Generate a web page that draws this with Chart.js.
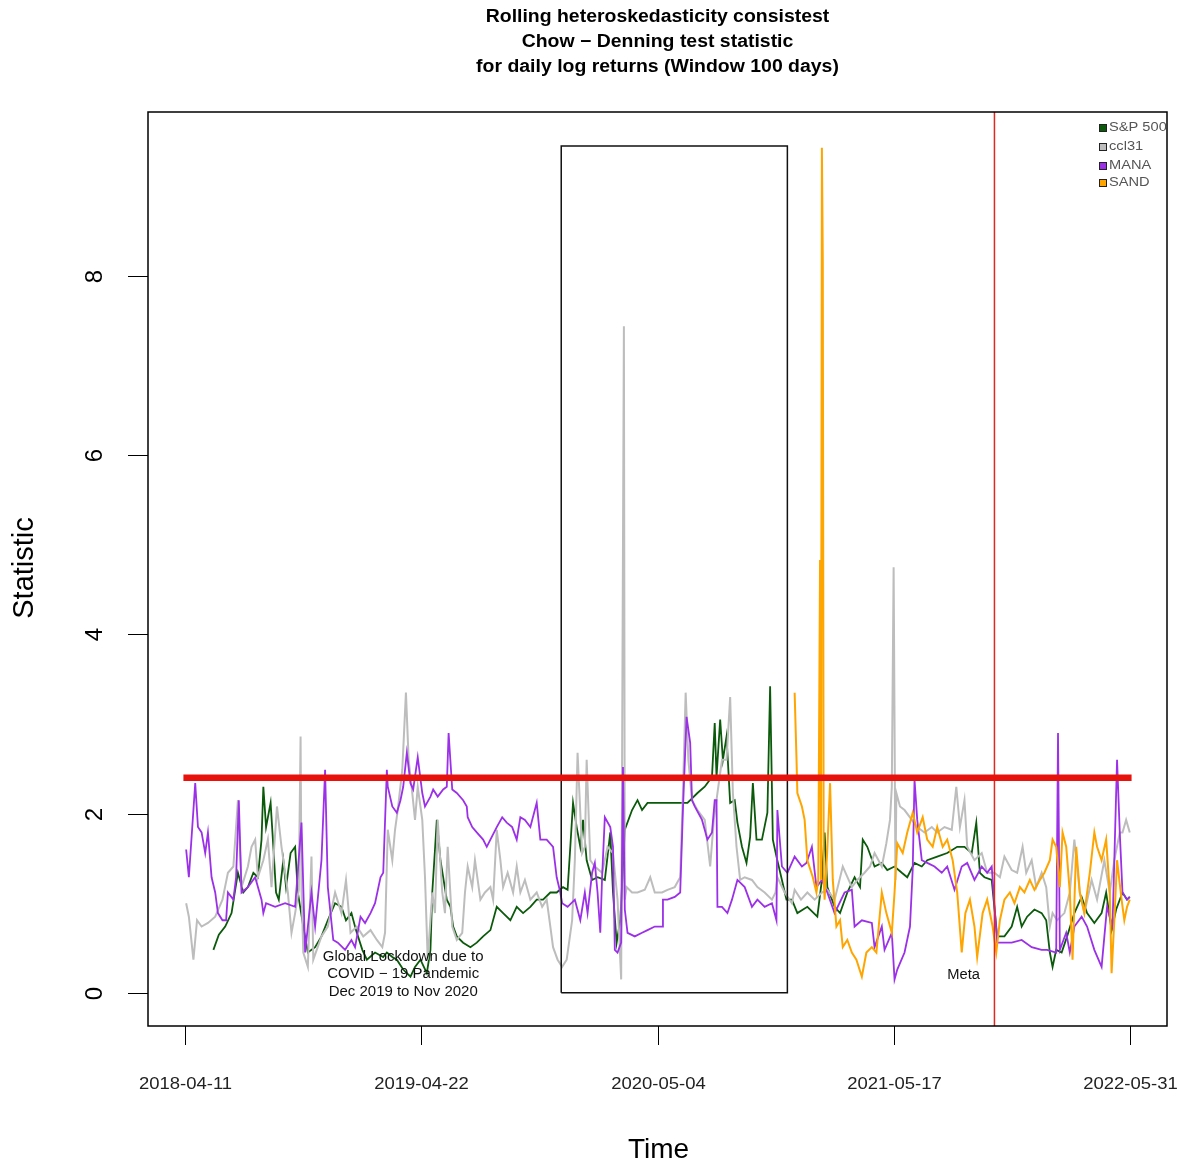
<!DOCTYPE html>
<html>
<head>
<meta charset="utf-8">
<script src="https://cdn.jsdelivr.net/npm/chart.js@4/dist/chart.umd.min.js"></script>
<style>
body { margin: 0; background: #fff; }
#wrap { width: 1181px; height: 1166px; }
</style>
</head>
<body>
<div id="wrap"><canvas id="lineChart"></canvas></div>
<script>
// x = observation index (trading days), y = rolling test statistic
var spxIdx = [31,37,44,51,55,58,64,69,75,80, 84,86,89,94,97,100,103,108,111,116, 121,124,130,135,143,150,157,165,172,177, 183,188,195,200,209,218,222,228,233,240, 248,253,259,266,270,272,275,277,281,284, 288,292,295,299,306,314,321,328,336,343, 350,358,365,372,380,387,394,402,409,416,
  421,424,427,431,435,438,442,448,454,462, 468,471,475,479,484,492,498,503,509,523, 539,553,564,572,580,583,585,589,592,596, 600,605,608,613,618,622,625,629,635,641, 644,647,651,657,662,668,
  674,685,696,701,704,707,715,721,729,737, 743,746,751,759,767,773,781,789,795,803, 811,817,828,839,850,858,866,871,875,880, 888,894,
  902,910,916,921,927,935,943,948,952,955, 959,965,971,979,987,993,1001,1009,1014,1020, 1025,1032,1037,1040];
var spxVal = [0.48,0.65,0.74,0.89,1.15,1.34,1.12,1.18,1.34,1.29, 1.71,2.30,1.85,2.12,1.63,1.12,1.04,1.48,1.18,1.56, 1.63,1.12,0.74,0.45,0.51,0.63,0.81,1.00,0.96,0.81, 0.89,0.70,0.48,0.37,0.45,0.40,0.45,0.40,0.37,0.26, 0.18,0.29,0.37,0.22,0.48,1.12,1.60,1.93,1.48,1.29, 1.04,0.96,0.74,0.63,0.56,0.51,0.56,0.63,0.70,0.96, 0.89,0.81,0.96,0.89,0.96,1.04,1.04,1.12,1.12,1.18,
  1.15,1.63,2.12,1.85,1.63,1.93,1.48,1.26,1.29,1.26, 1.79,1.12,0.56,0.81,1.82,2.04,2.15,2.04,2.12,2.12, 2.12,2.12,2.23,2.30,2.41,3.01,2.41,3.05,2.60,2.86, 2.12,2.15,1.90,1.63,1.45,1.74,2.34,1.71,1.71,2.01, 3.42,1.71,1.52,1.26,1.04,1.04,
  0.89,0.96,0.85,1.26,1.79,1.18,0.96,0.89,1.12,1.29, 1.18,1.71,1.63,1.41,1.45,1.37,1.41,1.34,1.29,1.45, 1.41,1.48,1.52,1.56,1.63,1.63,1.56,1.90,1.34,1.29, 1.26,0.63,
  0.63,0.74,0.96,0.74,0.85,0.93,0.89,0.81,0.45,0.29, 0.48,0.45,0.63,0.89,1.07,0.89,0.78,0.89,1.12,0.70, 0.93,1.12,1.04,1.07];

var cclIdx = [1,4,9,13,18,25,33,41,47,53, 58,62,69,73,77,80,86,91,95,101, 106,113,117,121,125,127,128,130,135,139, 141,150,157,165,172,177,182,189,196,204, 211,217,220,223,228,231,234,239,243,246, 250,253,256,261,264,267,272,275,278,283, 286,289,294,299,305,308,311,316,319,325, 330,336,339,343,347,350,355,361,365,369, 374,380,387,393,398,402,405,410,
  415,420,426,429,432,437,440,442,446,451, 459,465,471,476,480,483,484,486,492,498, 506,512,517,525,531,539,545,548,551,554, 558,564,572,578,582,586,591,596,600,603, 607,611,616,624,630,638,646,650,652,660, 668,
  671,678,685,693,701,707,715,724,734,740, 748,754,759,767,772,776,778,780,782,783, 787,792,800,806,814,822,828,836,844,849, 853,858,861,869,877,883,891,
  897,902,910,916,922,926,932,937,943,948, 952,955,960,968,974,979,985,990,998,1004, 1012,1018,1023,1029,1032,1036,1040];
var cclVal = [1.00,0.85,0.37,0.81,0.74,0.78,0.85,1.04,1.34,1.41, 2.15,1.18,1.41,1.63,1.71,1.29,1.48,1.71,1.18,2.08, 1.63,1.12,0.67,0.89,1.15,2.86,1.15,0.45,0.29,1.52, 0.37,0.63,0.74,1.12,0.89,1.26,0.67,0.74,0.63,0.70, 0.59,0.51,0.67,1.82,1.48,1.82,2.04,2.49,3.35,2.60, 2.23,1.93,2.30,1.93,1.29,0.37,1.12,0.89,1.93,1.12, 0.89,1.63,0.74,0.59,0.67,1.12,1.41,1.18,1.48,1.04, 1.12,1.18,1.04,1.82,1.48,1.18,1.34,1.12,1.41,1.12, 1.26,1.04,1.12,0.96,1.04,0.74,0.51,0.37,
  0.29,0.37,0.81,1.48,2.68,1.56,1.63,2.60,1.48,1.41, 1.34,1.63,1.56,1.04,0.15,7.44,1.04,1.18,1.12,1.12, 1.15,1.29,1.12,1.12,1.15,1.18,1.29,2.23,3.35,2.60, 2.15,2.04,1.93,1.41,1.93,2.23,2.60,2.60,3.30,2.23, 1.63,1.26,1.29,1.26,1.18,1.12,1.04,1.12,1.29,1.12, 1.00,
  1.15,1.04,1.12,1.04,1.12,1.15,1.04,1.41,1.18,1.26, 1.34,1.41,1.56,1.41,1.67,1.93,2.30,4.75,1.26,2.23, 2.08,2.04,1.93,1.85,1.79,1.85,1.79,1.85,1.82,2.30, 1.85,2.15,1.63,1.48,1.56,1.34,1.34,
  1.29,1.52,1.37,1.34,1.63,1.34,1.48,1.18,1.34,1.18, 0.74,0.89,0.81,0.89,1.12,1.71,1.12,0.89,1.26,1.04, 1.48,1.12,1.48,1.79,1.79,1.93,1.79];

var manaIdx = [1,4,11,14,18,22,25,29,33,36, 41,45,47,53,56,59,62,69,77,84, 86,89,99,110,121,128,132,139,143,150, 154,157,163,168,176,183,187,193,198,204, 209,215,218,222,223,228,233,237,240,244, 248,251,256,261,264,270,273,278,284,288, 290,294,299,306,310,311,316,321,328,332, 336,343,349,354,360,365,369,374,380,387, 391,398,405,409,413,
  415,421,429,435,440,443,448,451,454,457, 459,462,468,471,473,476,480,482,484,487, 495,503,509,517,525,526,531,539,545,548, 552,556,558,561,569,575,580,583,585,586, 591,597,602,608,616,624,630,638,646,651, 652,657,663,
  671,679,684,690,695,701,707,715,726,734, 737,745,756,759,767,770,778,781,784,792, 798,801,803,806,811,817,825,833,839,847, 855,861,869,877,883,888,894,
  899,910,921,932,943,949,959,961,963,970, 974,979,987,993,1001,1009,1015,1021,1026,1029, 1032,1037,1040];
var manaVal = [1.60,1.29,2.34,1.85,1.79,1.56,1.79,1.29,1.12,0.89, 0.81,0.81,1.12,1.04,1.29,2.15,1.12,1.18,1.29,1.04, 0.89,1.00,0.96,1.00,0.96,1.90,0.45,1.12,0.74,1.48, 2.49,1.18,0.59,0.56,0.48,0.59,0.51,0.85,0.78,0.89, 1.00,1.29,1.34,2.49,2.30,2.08,2.01,2.15,2.30,2.68, 2.34,2.27,2.63,2.23,2.08,2.19,2.27,2.19,2.27,2.30, 2.90,2.27,2.23,2.15,2.08,1.96,1.85,1.79,1.71,1.63, 1.71,1.85,1.96,1.90,1.85,1.71,1.96,1.93,1.85,2.12, 1.71,1.71,1.63,1.29,1.12,
  1.00,0.96,1.04,0.81,1.12,0.89,1.34,1.45,1.12,0.67, 1.29,1.96,1.85,1.63,0.48,0.45,0.56,2.52,0.93,0.67, 0.63,0.67,0.70,0.74,0.74,1.04,1.04,1.07,1.12,2.04, 3.08,2.79,2.15,2.08,1.93,1.71,1.79,2.15,2.15,0.96, 0.96,0.89,1.04,1.26,1.18,0.96,1.04,0.96,1.00,0.81, 2.04,1.41,1.34,
  1.52,1.41,1.45,1.63,1.18,1.26,1.12,0.89,1.12,1.15, 0.74,0.81,0.78,0.51,0.74,0.48,0.67,0.15,0.26,0.45, 0.74,1.37,2.38,1.93,1.48,1.45,1.41,1.34,1.41,1.15, 1.41,1.45,1.26,1.41,1.34,1.41,0.56,
  0.56,0.56,0.59,0.51,0.48,0.48,0.45,2.90,0.48,0.67, 0.45,0.74,0.85,0.74,0.48,0.29,0.96,0.74,2.60,1.79, 1.12,1.04,1.07];

var sandIdx = [671,673,674,679,682,685,691,695,697,699, 700,701,702,703,704,707,710,713,717,721, 724,729,734,739,745,750,756,761,767,772, 778,781,784,790,795,801,806,812,817,823, 828,834,839,845,850,855,859,864,869,872, 878,883,889,893,897,902,908,913,919,924, 930,935,941,946,952,955,959,963,966,970, 974,977,981,985,990,996,1001,1004,1009,1014, 1018,1020,1023,1026,1031,1034,1037,1040];
var sandVal = [3.35,2.63,2.23,2.08,1.93,1.48,1.29,1.12,1.26,4.83, 1.26,9.43,8.16,1.26,1.04,1.60,2.34,1.26,0.74,0.81, 0.51,0.59,0.45,0.37,0.18,0.45,0.51,0.45,1.12,0.89, 0.67,1.12,1.67,1.56,1.79,2.01,1.79,1.96,1.71,1.63, 1.85,1.63,1.71,1.48,1.12,0.45,0.89,1.04,0.74,0.40, 0.89,1.04,0.74,0.45,0.81,1.04,1.12,1.00,1.18,1.12, 1.26,1.15,1.26,1.34,1.48,1.71,1.63,1.18,1.79,1.63, 1.12,0.37,1.63,1.12,0.89,1.34,1.79,1.63,1.48,1.71, 1.12,0.22,0.81,1.48,1.04,0.81,0.96,1.04];

var xTickIdx = [0, 260, 520, 780, 1040];
var xTickLabels = ['2018-04-11', '2019-04-22', '2020-05-04', '2021-05-17', '2022-05-31'];
var yTicks = [0, 2, 4, 6, 8];

var criticalValue = 2.4;
var lockdownStart = 414, lockdownEnd = 663, lockdownTop = 9.45;
var metaIdx = 891;

var seriesNames = ['S&P 500', 'ccl31', 'MANA', 'SAND'];
var seriesColors = ['#0b5a0b', '#bdbdbd', '#9b30e8', '#ffa500'];

function pts(xs, ys) {
    return xs.map(function (x, i) { return { x: x, y: ys[i] }; });
}

function line(label, data, color, width, order) {
    return {
        label: label,
        data: data,
        borderColor: color,
        borderWidth: width,
        pointRadius: 0,
        tension: 0,
        fill: false,
        order: order,
    };
}

var data = {
    datasets: [
        line(seriesNames[0], pts(spxIdx, spxVal), seriesColors[0], 1.8, 6),
        line(seriesNames[1], pts(cclIdx, cclVal), seriesColors[1], 2, 5),
        line(seriesNames[2], pts(manaIdx, manaVal), seriesColors[2], 1.8, 4),
        line(seriesNames[3], pts(sandIdx, sandVal), seriesColors[3], 2, 3),
        line('critical', pts([-2, 1042], [criticalValue, criticalValue]), '#e8120c', 6.5, 1),
        line('lockdown', pts([lockdownStart, lockdownStart, lockdownEnd, lockdownEnd, lockdownStart], [0, lockdownTop, lockdownTop, 0, 0]), '#111', 1.5, 2),
        line('meta', pts([metaIdx, metaIdx], [-1, 11]), '#e0281e', 1.5, 2),
    ]
};

var fontName = '"Liberation Sans", Arial, sans-serif';

// text drawn slightly stretched horizontally, like the original R output
function txt(ctx, s, x, y, font, hs, align) {
    ctx.save();
    ctx.font = font;
    ctx.textAlign = align || 'center';
    ctx.textBaseline = 'middle';
    ctx.translate(x, y);
    ctx.scale(hs, 1);
    ctx.fillText(s, 0, 0);
    ctx.restore();
}

var decor = {
    id: 'decor',
    afterDatasetsDraw: function (chart) {
        var ctx = chart.ctx, a = chart.chartArea;
        var xs = chart.scales.x, ys = chart.scales.y;
        ctx.save();
        ctx.strokeStyle = '#000';
        ctx.lineWidth = 1.5;
        ctx.strokeRect(a.left, a.top, a.right - a.left, a.bottom - a.top);

        // annotations
        ctx.fillStyle = '#111';
        var f = '14px ' + fontName;
        var cx = xs.getPixelForValue(240);
        txt(ctx, 'Global Lockdown due to', cx, ys.getPixelForValue(0.40), f, 1.07);
        txt(ctx, 'COVID \u2212 19 Pandemic', cx, ys.getPixelForValue(0.21), f, 1.07);
        txt(ctx, 'Dec 2019 to Nov 2020', cx, ys.getPixelForValue(0.01), f, 1.07);
        txt(ctx, 'Meta', xs.getPixelForValue(857), ys.getPixelForValue(0.20), f, 1.05);

        // legend
        ctx.beginPath();
        ctx.rect(a.left, a.top, a.right - a.left, a.bottom - a.top);
        ctx.clip();
        var rowsY = [128, 147, 166, 183];
        for (var i = 0; i < 4; i++) {
            ctx.fillStyle = seriesColors[i];
            ctx.fillRect(1099.5, rowsY[i] - 3.5, 7, 7);
            ctx.strokeStyle = '#222';
            ctx.lineWidth = 1;
            ctx.strokeRect(1099.5, rowsY[i] - 3.5, 7, 7);
            ctx.fillStyle = '#555';
            txt(ctx, seriesNames[i], 1109, rowsY[i], '12px ' + fontName, 1.22, 'left');
        }
        ctx.restore();
    },
    afterDraw: function (chart) {
        var ctx = chart.ctx, a = chart.chartArea;
        var xs = chart.scales.x, ys = chart.scales.y;
        ctx.save();
        ctx.fillStyle = '#000';
        ctx.strokeStyle = '#000';
        ctx.lineWidth = 1;

        // x axis ticks and labels
        xTickIdx.forEach(function (v, i) {
            var px = Math.round(xs.getPixelForValue(v)) + 0.5;
            ctx.beginPath();
            ctx.moveTo(px, a.bottom);
            ctx.lineTo(px, a.bottom + 19);
            ctx.stroke();
            ctx.fillStyle = '#222';
            txt(ctx, xTickLabels[i], px, 1084, '16.5px ' + fontName, 1.12);
        });

        // y axis ticks and rotated labels
        ctx.fillStyle = '#000';
        ctx.font = '24px ' + fontName;
        ctx.textAlign = 'center';
        ctx.textBaseline = 'middle';
        yTicks.forEach(function (v) {
            var py = Math.round(ys.getPixelForValue(v)) + 0.5;
            ctx.beginPath();
            ctx.moveTo(a.left, py);
            ctx.lineTo(a.left - 20, py);
            ctx.stroke();
            ctx.save();
            ctx.translate(95, py);
            ctx.rotate(-Math.PI / 2);
            ctx.fillText(String(v), 0, 0);
            ctx.restore();
        });

        // axis titles
        txt(ctx, 'Time', (a.left + a.right) / 2 + 1, 1150, '28px ' + fontName, 1);
        ctx.save();
        ctx.font = '29px ' + fontName;
        ctx.translate(25, 568);
        ctx.rotate(-Math.PI / 2);
        ctx.fillText('Statistic', 0, 0);
        ctx.restore();

        // main title
        var tx = (a.left + a.right) / 2;
        var tf = 'bold 18px ' + fontName;
        txt(ctx, 'Rolling heteroskedasticity consistest', tx, 17, tf, 1.08);
        txt(ctx, 'Chow \u2212 Denning test statistic', tx, 42, tf, 1.08);
        txt(ctx, 'for daily log returns (Window 100 days)', tx, 67, tf, 1.08);
        ctx.restore();
    }
};

var config = {
    type: 'line',
    data: data,
    options: {
        responsive: true,
        maintainAspectRatio: false,
        animation: false,
        layout: { padding: { left: 148, right: 14, top: 112, bottom: 140 } },
        plugins: { legend: { display: false }, tooltip: { enabled: false } },
        scales: {
            x: { type: 'linear', min: -41, max: 1081, display: false },
            y: { type: 'linear', min: -0.37, max: 9.83, display: false },
        },
    },
    plugins: [decor],
};

var lineChart = new Chart(document.getElementById('lineChart'), config);
</script>
</body>
</html>
